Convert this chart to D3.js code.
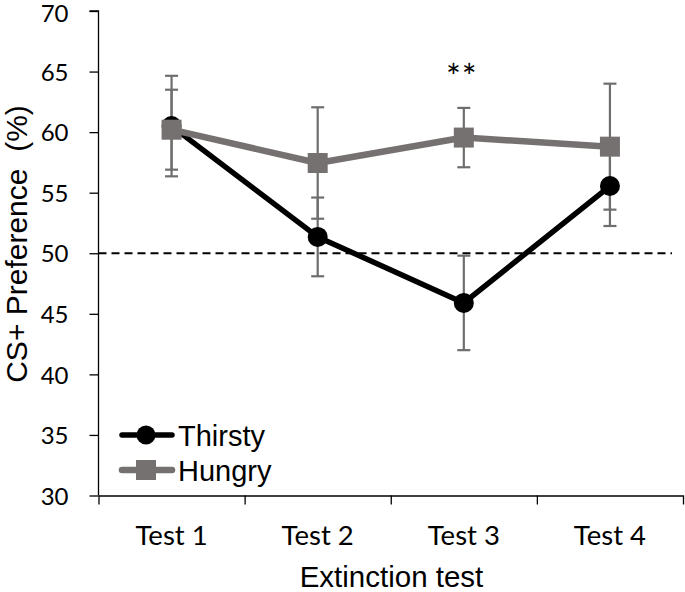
<!DOCTYPE html>
<html>
<head>
<meta charset="utf-8">
<script src="https://cdn.jsdelivr.net/npm/d3@7"></script>
<style>
  html, body { margin: 0; padding: 0; background: #fff; }
  svg { display: block; }
</style>
</head>
<body>
<div id="chart"></div>
<script>
const categories = ["Test 1", "Test 2", "Test 3", "Test 4"];
const thirsty = [60.5, 51.35, 45.9, 55.55];
const thirstyErr = [4.15, 3.25, 3.9, 3.3];
const hungry = [60.2, 57.45, 59.55, 58.8];
const hungryErr = [3.3, 4.6, 2.45, 5.2];
const yTicks = [30, 35, 40, 45, 50, 55, 60, 65, 70];
const seriesNames = ["Thirsty", "Hungry"];
const chanceLevel = 50;
const annotation = { category: "Test 3", text: "**" };

(function () {
const W = 685, H = 592;
const svg = d3.select("#chart").append("svg").attr("width", W).attr("height", H);

const mLeft = 98.5, mRight = 683, mTop = 11, mBottom = 495.5;
const x = d3.scaleBand().domain(categories).range([mLeft, mRight]).padding(0);
const cx = c => x(c) + x.bandwidth() / 2;
const y = d3.scaleLinear().domain([30, 70]).range([mBottom, mTop]);
const xb = d3.scaleLinear().domain([0, categories.length]).range([mLeft, mRight]);

const tickFont = "Lato, 'Open Sans', sans-serif";
const titleFont = "'Liberation Sans', Arial, sans-serif";

// Y axis
const gy = svg.append("g").attr("transform", `translate(${mLeft},0)`)
  .call(d3.axisLeft(y).tickValues(yTicks).tickSize(9).tickPadding(21).tickFormat(d3.format("d")));
gy.select(".domain").attr("stroke", "#000").attr("stroke-width", 1.3).attr("d", `M-9,${y(70)}H0V${y(30)}`);
gy.selectAll(".tick line").attr("stroke", "#000").attr("stroke-width", 1.3);
gy.selectAll(".tick text").attr("font-family", tickFont).attr("font-size", 24).attr("fill", "#000")
  .attr("dy", d => d === 70 ? "0.42em" : "0.36em");

// X axis boundary ticks
const gx = svg.append("g").attr("transform", `translate(0,${mBottom})`)
  .call(d3.axisBottom(xb).ticks(categories.length).tickSizeInner(9).tickSizeOuter(0).tickFormat(""));
gx.select(".domain").attr("stroke", "#000").attr("stroke-width", 1.3);
gx.selectAll(".tick line").attr("stroke", "#000").attr("stroke-width", 1.3);

// X labels
const gxl = svg.append("g").attr("transform", `translate(0,${mBottom})`)
  .call(d3.axisBottom(x).tickSize(0));
gxl.select(".domain").remove();
gxl.selectAll(".tick text").attr("font-family", tickFont).attr("font-size", 27.5).attr("fill", "#000")
  .attr("y", 49.5).attr("dy", 0);

// Axis titles
svg.append("text").attr("x", 391.5).attr("y", 587)
  .attr("text-anchor", "middle").attr("font-family", titleFont).attr("font-size", 29.5).attr("fill", "#000")
  .text("Extinction test");
svg.append("text").attr("transform", `translate(27,${244}) rotate(-90)`)
  .attr("text-anchor", "middle").attr("font-family", titleFont).attr("font-size", 30).attr("fill", "#000")
  .attr("xml:space", "preserve")
  .text("CS+ Preference  (%)");

// Chance line
svg.append("line").attr("x1", mLeft).attr("x2", 672).attr("y1", y(chanceLevel)).attr("y2", y(chanceLevel))
  .attr("stroke", "#000").attr("stroke-width", 2).attr("stroke-dasharray", "8,5");

const grayLine = "#767171";
const errColor = "#6e6e6e";

// Error bars
function errBars(vals, errs) {
  const g = svg.append("g");
  categories.forEach((c, i) => {
    const px = cx(c);
    const y1 = y(vals[i] + errs[i]), y2 = y(vals[i] - errs[i]);
    g.append("line").attr("x1", px).attr("x2", px).attr("y1", y1).attr("y2", y2)
      .attr("stroke", errColor).attr("stroke-width", 2.2);
    [y1, y2].forEach(yy => g.append("line").attr("x1", px - 6.5).attr("x2", px + 6.5).attr("y1", yy).attr("y2", yy)
      .attr("stroke", errColor).attr("stroke-width", 2.2));
  });
}
errBars(thirsty, thirstyErr);
errBars(hungry, hungryErr);

const line = d3.line().x((d, i) => cx(categories[i])).y(d => y(d));

// Thirsty
svg.append("path").datum(thirsty).attr("d", line).attr("fill", "none")
  .attr("stroke", "#000").attr("stroke-width", 5.5).attr("stroke-linejoin", "round");
svg.append("g").selectAll("circle").data(thirsty).join("circle")
  .attr("cx", (d, i) => cx(categories[i])).attr("cy", d => y(d)).attr("r", 10).attr("fill", "#000");

// Hungry
svg.append("path").datum(hungry).attr("d", line).attr("fill", "none")
  .attr("stroke", grayLine).attr("stroke-width", 6.5).attr("stroke-linejoin", "round");
svg.append("g").selectAll("rect").data(hungry).join("rect")
  .attr("x", (d, i) => cx(categories[i]) - 10).attr("y", d => y(d) - 10)
  .attr("width", 20).attr("height", 20).attr("fill", grayLine);

// Annotation
svg.append("text").attr("x", cx(annotation.category) - 2).attr("y", 88.5)
  .attr("text-anchor", "middle").attr("font-family", tickFont).attr("font-size", 35).attr("fill", "#000")
  .attr("letter-spacing", "1")
  .text(annotation.text);

// Legend
const lg = svg.append("g");
const legY = [435, 470];
seriesNames.forEach((name, i) => {
  const yy = legY[i];
  const color = i === 0 ? "#000" : grayLine;
  lg.append("line").attr("x1", 122).attr("x2", 172).attr("y1", yy).attr("y2", yy)
    .attr("stroke", color).attr("stroke-width", i === 0 ? 5.5 : 6.5).attr("stroke-linecap", "round");
  if (i === 0) {
    lg.append("circle").attr("cx", 146).attr("cy", yy).attr("r", 9.5).attr("fill", color);
  } else {
    lg.append("rect").attr("x", 136).attr("y", yy - 10).attr("width", 20).attr("height", 20).attr("fill", color);
  }
  lg.append("text").attr("x", 178).attr("y", yy + 11).attr("font-family", titleFont).attr("font-size", 29)
    .attr("fill", "#000").text(name);
});
})();
</script>
</body>
</html>
